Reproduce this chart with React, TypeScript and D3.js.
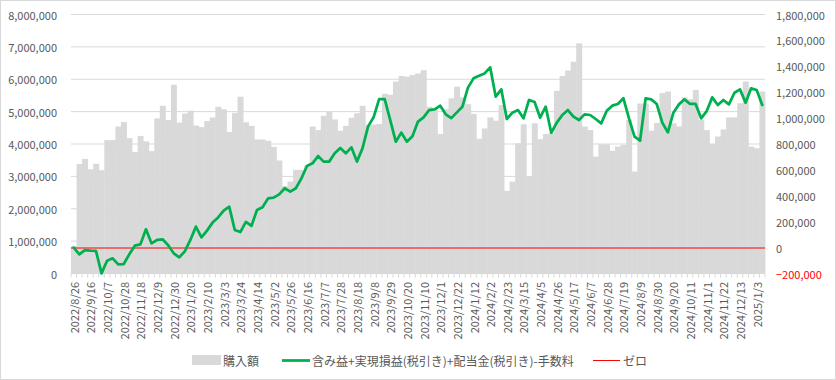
import React from "react";
import * as d3 from "d3";

const dates: string[] = [
  "2022/8/26","2022/9/2","2022/9/9","2022/9/16","2022/9/22","2022/9/30","2022/10/7","2022/10/14","2022/10/21","2022/10/28",
  "2022/11/4","2022/11/11","2022/11/18","2022/11/25","2022/12/2","2022/12/9","2022/12/16","2022/12/23","2022/12/30",
  "2023/1/6","2023/1/13","2023/1/20","2023/1/27","2023/2/3","2023/2/10","2023/2/17","2023/2/24","2023/3/3","2023/3/10",
  "2023/3/17","2023/3/24","2023/3/31","2023/4/7","2023/4/14","2023/4/21","2023/4/28","2023/5/2","2023/5/12","2023/5/19",
  "2023/5/26","2023/6/2","2023/6/9","2023/6/16","2023/6/23","2023/6/30","2023/7/7","2023/7/14","2023/7/21","2023/7/28",
  "2023/8/4","2023/8/11","2023/8/18","2023/8/25","2023/9/1","2023/9/8","2023/9/15","2023/9/22","2023/9/29","2023/10/6",
  "2023/10/13","2023/10/20","2023/10/27","2023/11/2","2023/11/10","2023/11/17","2023/11/24","2023/12/1","2023/12/8",
  "2023/12/15","2023/12/22","2023/12/29","2024/1/5","2024/1/12","2024/1/19","2024/1/26","2024/2/2","2024/2/9","2024/2/16",
  "2024/2/23","2024/3/1","2024/3/8","2024/3/15","2024/3/22","2024/3/29","2024/4/5","2024/4/12","2024/4/19","2024/4/26",
  "2024/5/3","2024/5/10","2024/5/17","2024/5/24","2024/5/31","2024/6/7","2024/6/14","2024/6/21","2024/6/28","2024/7/5",
  "2024/7/12","2024/7/19","2024/7/26","2024/8/2","2024/8/9","2024/8/16","2024/8/23","2024/8/30","2024/9/6","2024/9/13",
  "2024/9/20","2024/9/27","2024/10/4","2024/10/11","2024/10/18","2024/10/25","2024/11/1","2024/11/8","2024/11/15",
  "2024/11/22","2024/11/29","2024/12/6","2024/12/13","2024/12/20","2024/12/27","2025/1/3","2025/1/10",
];

// 購入額 (yen)
const purchase: number[] = [
  850000, 3380000, 3540000, 3220000, 3390000, 3190000, 4120000, 4120000, 4540000, 4680000,
  4180000, 3750000, 4250000, 4080000, 3780000, 4790000, 5180000, 4740000, 5830000, 4660000,
  4940000, 5030000, 4570000, 4520000, 4710000, 4820000, 5150000, 5070000, 4370000, 4960000,
  5460000, 4670000, 4560000, 4140000, 4140000, 4100000, 3910000, 3490000, 2700000, 2840000,
  3200000, 3200000, 3340000, 4540000, 4430000, 4870000, 5000000, 4760000, 4410000, 4560000,
  4810000, 4950000, 5180000, 4600000, 4600000, 4620000, 5550000, 5520000, 5930000, 6100000,
  6080000, 6130000, 6180000, 6280000, 5150000, 5100000, 4310000, 5070000, 5410000, 5770000,
  5440000, 5230000, 4930000, 4160000, 4480000, 4820000, 4720000, 5200000, 2550000, 2840000,
  4020000, 4610000, 2990000, 4640000, 4150000, 4310000, 4330000, 5640000, 6100000, 6270000,
  6540000, 7110000, 4540000, 4430000, 3610000, 3990000, 3990000, 3790000, 3920000, 3970000,
  4750000, 3150000, 5250000, 5250000, 4410000, 4650000, 5570000, 5620000, 4640000, 4540000,
  5440000, 5380000, 5670000, 4740000, 4430000, 4000000, 4230000, 4450000, 4820000, 4820000,
  5260000, 5930000, 3920000, 3870000, 5620000,
];

// 含み益+実現損益(税引き)+配当金(税引き)-手数料 (yen)
const profit: number[] = [
  0, -52000, -19000, -24000, -26000, -199000, -101000, -83000, -130000, -127000,
  -52000, 15000, 25000, 141000, 33000, 59000, 64000, 18000, -44000, -75000,
  -29000, 59000, 162000, 79000, 131000, 193000, 233000, 285000, 316000, 136000,
  120000, 198000, 167000, 290000, 311000, 380000, 386000, 411000, 458000, 432000,
  458000, 535000, 630000, 651000, 707000, 664000, 664000, 728000, 769000, 728000,
  774000, 664000, 766000, 934000, 1006000, 1147000, 1147000, 985000, 818000, 888000,
  818000, 860000, 973000, 1006000, 1062000, 1067000, 1096000, 1029000, 1000000, 1044000,
  1088000, 1235000, 1307000, 1327000, 1345000, 1392000, 1165000, 1222000, 993000, 1042000,
  1062000, 998000, 1140000, 1124000, 1003000, 1088000, 887000, 965000, 1024000, 1062000,
  1011000, 985000, 1029000, 1024000, 993000, 959000, 1057000, 1096000, 1109000, 1153000,
  998000, 857000, 826000, 1153000, 1145000, 1109000, 965000, 890000, 1042000, 1106000,
  1145000, 1109000, 1109000, 998000, 1054000, 1160000, 1101000, 1140000, 1106000, 1196000,
  1222000, 1119000, 1230000, 1217000, 1101000,
];

const leftTicks: number[] = [0, 1000000, 2000000, 3000000, 4000000, 5000000, 6000000, 7000000, 8000000];
const rightTicks: number[] = [-200000, 0, 200000, 400000, 600000, 800000, 1000000, 1200000, 1400000, 1600000, 1800000];

const legendLabels = ["購入額", "含み益+実現損益(税引き)+配当金(税引き)-手数料", "ゼロ"];

const W = 836;
const H = 380;
const L = 71;
const R = 765;
const T = 14.5;
const B = 273.5;
const FONT = "'Noto Sans CJK JP', 'Noto Sans', sans-serif";
const TXT = "#595959";

export default function App() {
  const x = d3.scaleBand<string>().domain(dates).range([L, R]).padding(0);
  const yL = d3.scaleLinear().domain([0, 8000000]).range([B, T]);
  const yR = d3.scaleLinear().domain([-200000, 1800000]).range([B, T]);
  const fmt = d3.format(",");
  const bw = x.bandwidth();
  const zeroY = Math.round(yR(0)) + 0.5;

  const line = d3
    .line<number>()
    .x((_, i) => (x(dates[i]) as number) + bw / 2)
    .y((d) => yR(d));

  return (
    <div style={{ position: "fixed", left: 0, top: 0 }}>
      <svg width={W} height={H} style={{ display: "block", background: "#fff" }}>
        <rect x={0.5} y={0.5} width={W - 1} height={H - 1} fill="#fff" stroke="#d9d9d9" />
        {leftTicks.map((t) => (
          <line key={"g" + t} x1={L} x2={R} y1={yL(t)} y2={yL(t)} stroke="#d9d9d9" strokeWidth={1} />
        ))}
        {purchase.map((v, i) => (
          <rect
            key={"b" + i}
            x={x(dates[i]) as number}
            y={yL(v)}
            width={bw + 0.4}
            height={yL(0) - yL(v)}
            fill="#d9d9d9"
          />
        ))}
        {dates.map((d, i) => (
          <line
            key={"t" + i}
            x1={(x(d) as number)}
            x2={(x(d) as number)}
            y1={B}
            y2={B + 4}
            stroke="#d9d9d9"
          />
        ))}
        <line x1={R} x2={R} y1={B} y2={B + 4} stroke="#d9d9d9" />
        <line x1={L} x2={R} y1={zeroY - 0.5} y2={zeroY - 0.5} stroke="#ff0000" strokeWidth={1} />
        <path d={line(profit) || ""} fill="none" stroke="#00b050" strokeWidth={2.75} strokeLinejoin="round" strokeLinecap="round" />
        {leftTicks.map((t) => (
          <text key={"l" + t} x={57} y={yL(t)} textAnchor="end" dominantBaseline="central" fontFamily={FONT} fontSize={11} fill={TXT}>
            {fmt(t)}
          </text>
        ))}
        {rightTicks.map((t) => (
          <text key={"r" + t} x={776} y={yR(t)} textAnchor="start" dominantBaseline="central" fontFamily={FONT} fontSize={11} fill={t < 0 ? "#ff0000" : TXT}>
            {fmt(t)}
          </text>
        ))}
        {dates.map((d, i) =>
          i % 3 === 0 ? (
            <text
              key={"x" + i}
              transform={`translate(${(x(d) as number) + bw / 2},282) rotate(-90)`}
              textAnchor="end"
              dominantBaseline="central"
              fontFamily={FONT}
              fontSize={11}
              fill={TXT}
            >
              {d}
            </text>
          ) : null
        )}
        <g fontFamily={FONT} fontSize={12} fill={TXT}>
          <rect x={192} y={355} width={29} height={10} fill="#d9d9d9" />
          <text x={223} y={360} dominantBaseline="central">{legendLabels[0]}</text>
          <line x1={282} x2={310} y1={360.5} y2={360.5} stroke="#00b050" strokeWidth={2.75} />
          <text x={312} y={360} dominantBaseline="central">{legendLabels[1]}</text>
          <line x1={593} x2={620} y1={360.5} y2={360.5} stroke="#ff0000" strokeWidth={1} />
          <text x={623} y={360} dominantBaseline="central">{legendLabels[2]}</text>
        </g>
      </svg>
    </div>
  );
}
